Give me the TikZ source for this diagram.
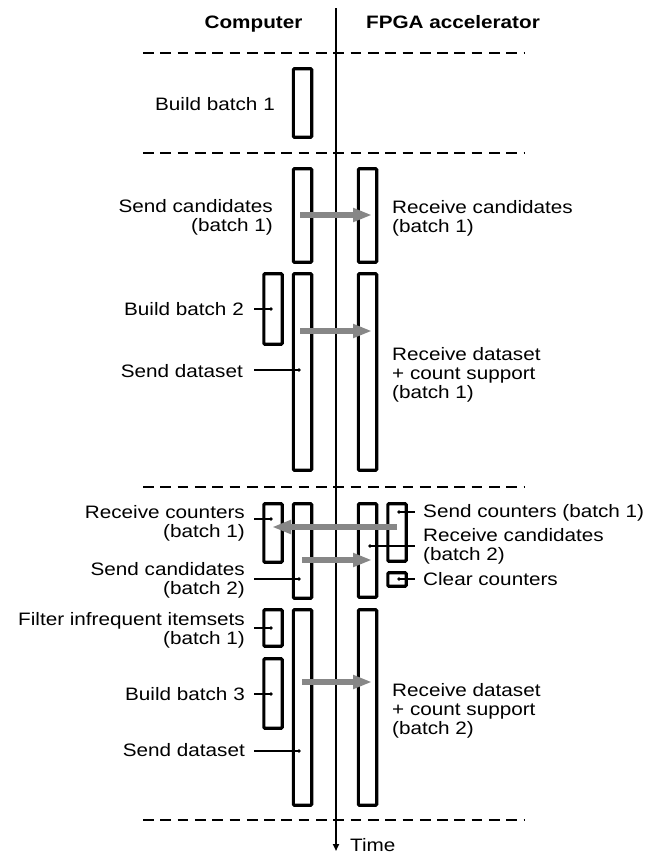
\documentclass[tikz,border=0pt]{standalone}
\usepackage{fontspec}
\setmainfont{Liberation Sans}[FakeStretch=1.15]
\usetikzlibrary{arrows.meta}
\definecolor{arrgray}{RGB}{135,135,135}
\begin{document}
\begin{tikzpicture}[x=1pt,y=-1pt,
  bx/.style={draw, line width=3.2pt, minimum width=18.3pt, inner sep=0pt, rounded corners=1pt},
  lbl/.style={font=\fontsize{18}{19.3}\selectfont, inner sep=0pt},
  hdr/.style={font=\fontsize{18}{19.3}\selectfont\bfseries, inner sep=0pt, anchor=base},
  sep/.style={line width=2.8pt, dash pattern=on 10.7pt off 6.6pt},
  lead/.style={line width=1.3pt},
  dotn/.style={circle, fill, inner sep=0pt, minimum size=3.8pt},
  garrow/.style={draw=arrgray, line width=5.5pt, -{Triangle[length=19pt,width=13pt]}},
  tarrow/.style={line width=1.8pt, -{Triangle[length=7pt,width=6pt]}}
]
\useasboundingbox (0,0) rectangle (647,854);

% headers
\node[hdr] (hc) at (253.5,28) {Computer};
\node[hdr] (hf) at (453,28) {FPGA accelerator};

% time axis
\coordinate (t0) at (336,8);
\coordinate (t1) at (336,851);
\draw[tarrow] (t0) -- (t1);
\node[lbl, anchor=base west] (time) at (350,851.5) {Time};

% separators
\foreach \yy/\nm in {53/s1,153/s2,487/s3,820/s4}{
  \coordinate (\nm a) at (143,\yy);
  \coordinate (\nm b) at (524,\yy);
  \draw[sep] (\nm a) -- (\nm b);
}

% boxes
\node[bx, minimum height=68.5pt]  (b1)   at (302.5,103)   {};
\node[bx, minimum height=93.5pt]  (sc1)  at (302.5,215.5) {};
\node[bx, minimum height=93.5pt]  (rc1)  at (367.5,215.5) {};
\node[bx, minimum height=70.5pt]  (bb2)  at (273,309)     {};
\node[bx, minimum height=196.5pt] (sd1)  at (302.5,372)   {};
\node[bx, minimum height=196.5pt] (rd1)  at (367.5,372)   {};
\node[bx, minimum height=58.5pt]  (rcn)  at (273,533)     {};
\node[bx, minimum height=94.5pt]  (sc2)  at (302.5,551)   {};
\node[bx, minimum height=93.5pt]  (rc2)  at (367.5,550.5) {};
\node[bx, minimum height=57.5pt]  (scn)  at (397,532.5)   {};
\node[bx, minimum height=13.5pt]  (cc)   at (397,579.5)   {};
\node[bx, minimum height=36.5pt]  (fi)   at (273,628)     {};
\node[bx, minimum height=69.5pt]  (bb3)  at (273,693.5)   {};
\node[bx, minimum height=195.5pt] (sd2)  at (302.5,707.5) {};
\node[bx, minimum height=195.5pt] (rd2)  at (367.5,707.5) {};

% labels without leaders (base anchor = baseline of last line)
\node[lbl, anchor=base east] (lb1) at (275,110) {Build batch 1};
\node[lbl, anchor=base east, align=right] (lsc1) at (273,231.8) {Send candidates\\(batch 1)};
\node[lbl, anchor=base west, align=left] (lrc1) at (392,232.3) {Receive candidates\\(batch 1)};
\node[lbl, anchor=base west, align=left] (lrd1) at (392,398.6) {Receive dataset\\+ count support\\(batch 1)};
\node[lbl, anchor=base west, align=left] (lrd2) at (392,734.6) {Receive dataset\\+ count support\\(batch 2)};

% labels with leaders (left)
\node[lbl, anchor=base east] (lbb2) at (244,315.5) {Build batch 2};
\node[lbl, anchor=base east] (lsd1) at (243,377) {Send dataset};
\node[lbl, anchor=base east, align=right] (lrcn) at (245,537.3) {Receive counters\\(batch 1)};
\node[lbl, anchor=base east, align=right] (lsc2) at (245,594.3) {Send candidates\\(batch 2)};
\node[lbl, anchor=base east, align=right] (lfi) at (245,644.3) {Filter infrequent itemsets\\(batch 1)};
\node[lbl, anchor=base east] (lbb3) at (245,700.5) {Build batch 3};
\node[lbl, anchor=base east] (lsd2) at (245,756.5) {Send dataset};

% labels with leaders (right)
\node[lbl, anchor=base west] (lscn) at (423,517) {Send counters (batch 1)};
\node[lbl, anchor=base west, align=left] (lrc2) at (423,560.3) {Receive candidates\\(batch 2)};
\node[lbl, anchor=base west] (lcc) at (423,585.5) {Clear counters};

% leader dots and lines
\foreach \nm/\xa/\xd/\yy in {bb2/254/271/309, sd1/254/299/370, rcn/254/271/519, sc2/254/299/579, fi/254/271/628, bb3/254/271/694, sd2/254/299/751}{
  \coordinate (q\nm) at (\xa,\yy);
  \node[dotn] (d\nm) at (\xd,\yy) {};
  \draw[lead] (q\nm) -- (d\nm.center);
}
\foreach \nm/\xd/\yy in {scn/399/512, rc2/370/546, cc/399/579}{
  \coordinate (q\nm) at (415,\yy);
  \node[dotn] (d\nm) at (\xd,\yy) {};
  \draw[lead] (d\nm.center) -- (q\nm);
}

% transfer arrows
\coordinate (a1s) at (300,215); \coordinate (a1e) at (372,215);
\coordinate (a2s) at (300,331); \coordinate (a2e) at (372,331);
\coordinate (a3s) at (397,527); \coordinate (a3e) at (272,527);
\coordinate (a4s) at (302,560); \coordinate (a4e) at (372,560);
\coordinate (a5s) at (302,682); \coordinate (a5e) at (372,682);
\draw[garrow] (a1s) -- (a1e);
\draw[garrow] (a2s) -- (a2e);
\draw[garrow] (a3s) -- (a3e);
\draw[garrow] (a4s) -- (a4e);
\draw[garrow] (a5s) -- (a5e);
\end{tikzpicture}
\end{document}
